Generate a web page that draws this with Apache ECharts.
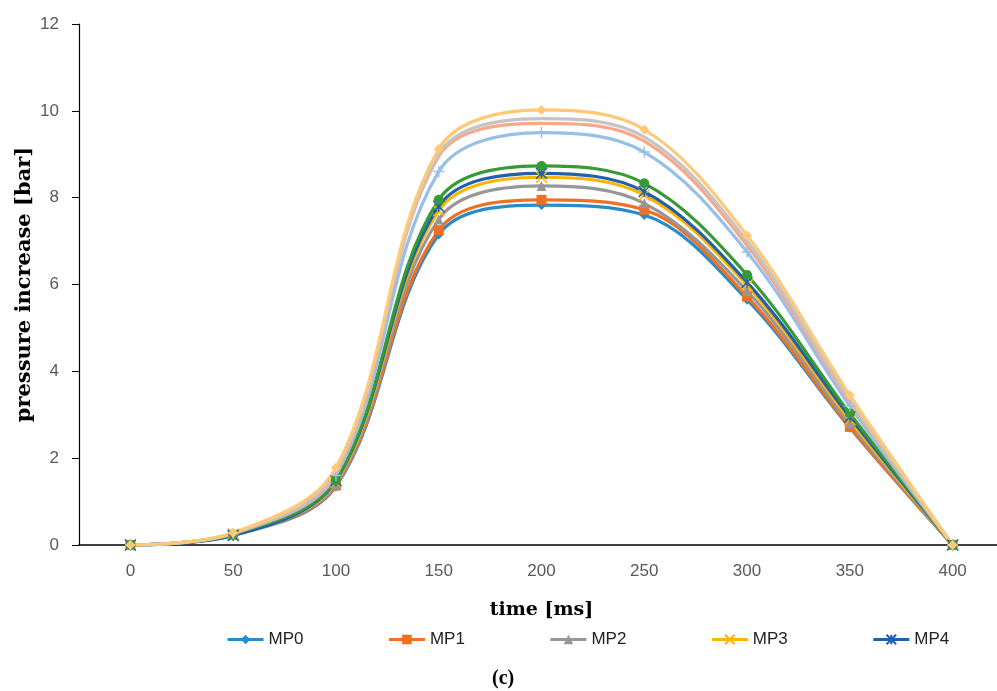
<!DOCTYPE html>
<html>
<head>
<meta charset="utf-8">
<script src="https://cdn.jsdelivr.net/npm/echarts@6/dist/echarts.min.js"></script>
<style>
  html, body { margin: 0; padding: 0; background: #fff; }
  #main { width: 997px; height: 691px; }
</style>
</head>
<body>
<div id="main"></div>
<script>
// 时间轴 (ms)
var times = ['0', '50', '100', '150', '200', '250', '300', '350', '400'];

// 各测点压力增量 (bar)
var mp0 = [0, 0.22, 1.35, 7.15, 7.83, 7.60, 5.65, 2.70, 0];
var mp1 = [0, 0.23, 1.37, 7.25, 7.95, 7.72, 5.72, 2.72, 0];
var mp2 = [0, 0.24, 1.40, 7.50, 8.27, 7.87, 5.85, 2.80, 0];
var mp3 = [0, 0.25, 1.45, 7.70, 8.47, 8.06, 5.98, 2.88, 0];
var mp4 = [0, 0.22, 1.48, 7.80, 8.56, 8.14, 6.05, 2.95, 0];
var mp5 = [0, 0.25, 1.50, 7.95, 8.73, 8.33, 6.22, 3.03, 0];
var mp6 = [0, 0.26, 1.60, 8.60, 9.50, 9.05, 6.75, 3.20, 0];
var mp7 = [0, 0.27, 1.65, 8.95, 9.71, 9.30, 6.90, 3.30, 0];
var mp8 = [0, 0.27, 1.70, 9.00, 9.82, 9.40, 7.00, 3.35, 0];
var mp9 = [0, 0.28, 1.78, 9.12, 10.02, 9.57, 7.13, 3.45, 0];

var yTicks = [0, 2, 4, 6, 8, 10, 12];

var symX = 'path://M0,0L10,10M10,0L0,10';
var symStar = 'path://M0,0L10,10M10,0L0,10M5,0L5,10';
var symPlus = 'path://M5,0L5,10M0,5L10,5';

function mkSeries(name, data, color, symbol, stroke) {
  return {
    name: name,
    type: 'line',
    data: data,
    smooth: 0.35,
    symbol: symbol,
    symbolSize: stroke ? 11 : 10,
    showSymbol: true,
    lineStyle: { color: color, width: 3.2 },
    itemStyle: stroke ? { color: color, borderColor: color, borderWidth: 1.5 } : { color: color },
    emphasis: { disabled: true },
    z: 2
  };
}

var chart = echarts.init(document.getElementById('main'));
chart.setOption({
  animation: false,
  grid: { left: 79, width: 925, top: 24, height: 521, containLabel: false, outerBoundsMode: 'none' },
  title: {
    text: '(c)',
    left: 487,
    top: 664,
    textStyle: { fontFamily: 'Liberation Serif', fontWeight: 'bold', fontSize: 20, color: '#000' }
  },
  legend: {
    data: ['MP0', 'MP1', 'MP2', 'MP3', 'MP4'],
    left: 221,
    top: 626,
    itemWidth: 36,
    itemHeight: 12,
    itemGap: 84,
    lineStyle: { width: 3 },
    textStyle: { fontFamily: 'Liberation Sans', fontSize: 17, color: '#222' }
  },
  xAxis: {
    type: 'category',
    data: times,
    boundaryGap: true,
    name: 'time [ms]',
    nameLocation: 'middle',
    nameGap: 56,
    nameTextStyle: { fontFamily: 'DejaVu Serif', fontWeight: 'bold', fontSize: 19, color: '#000' },
    axisLine: { lineStyle: { color: '#000', width: 1.5 } },
    axisTick: { alignWithLabel: true, inside: true, length: 5, lineStyle: { color: '#000', width: 1.5 } },
    axisLabel: { fontFamily: 'Liberation Sans', fontSize: 17, color: '#595959', margin: 18 },
    splitLine: { show: false }
  },
  yAxis: {
    type: 'value',
    min: yTicks[0],
    max: yTicks[yTicks.length - 1],
    interval: 2,
    name: 'pressure increase [bar]',
    nameLocation: 'middle',
    nameGap: 44,
    nameMoveOverlap: false,
    nameTextStyle: { fontFamily: 'DejaVu Serif', fontWeight: 'bold', fontSize: 21, color: '#000' },
    axisLine: { show: true, lineStyle: { color: '#000', width: 1.2 } },
    axisTick: { show: true, length: 7, lineStyle: { color: '#000' } },
    axisLabel: { fontFamily: 'Liberation Sans', fontSize: 17, color: '#595959', margin: 20 },
    splitLine: { show: false }
  },
  series: [
    mkSeries('MP0', mp0, '#2a8bc9', 'diamond'),
    mkSeries('MP1', mp1, '#ed7024', 'rect'),
    mkSeries('MP2', mp2, '#979797', 'triangle'),
    mkSeries('MP3', mp3, '#ffb400', symX, true),
    mkSeries('MP4', mp4, '#2160ad', symStar, true),
    mkSeries('MP5', mp5, '#389a34', 'circle'),
    mkSeries('MP6', mp6, '#96c0e8', symPlus, true),
    mkSeries('MP7', mp7, '#f7a88a', 'none'),
    mkSeries('MP8', mp8, '#c4c4c4', 'none'),
    mkSeries('MP9', mp9, '#ffc978', 'diamond')
  ]
});
</script>
</body>
</html>
